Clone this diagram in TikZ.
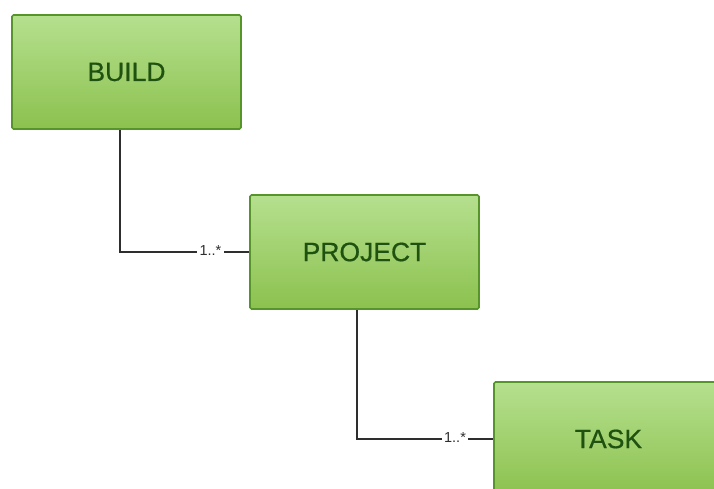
\documentclass[tikz,border=0pt]{standalone}
\usepackage{fontspec}
\setmainfont{Liberation Sans}
\newfontfamily\entityfont[FakeBold=0.6]{Liberation Sans}
\definecolor{boxtop}{HTML}{B5E08F}
\definecolor{boxbot}{HTML}{8CC14E}
\definecolor{boxline}{HTML}{57952A}
\definecolor{boxtext}{HTML}{1F5210}
\definecolor{linkcol}{HTML}{2E2E2E}
\begin{document}
\begin{tikzpicture}[x=1pt,y=-1pt,
  entity/.style={draw=boxline, line width=1.7pt, rounded corners=1.5pt,
    top color=boxtop, bottom color=boxbot,
    minimum width=229pt, minimum height=114pt, inner sep=0pt,
    text=boxtext, font=\entityfont\fontsize{26.5}{30}\selectfont},
  link/.style={draw=linkcol, line width=1.1pt},
  mult/.style={fill=white, inner xsep=2.5pt, inner ysep=1pt, text=linkcol,
    font=\fontsize{14.5}{16}\selectfont}]
  \useasboundingbox (0,0) rectangle (714,489);
  \clip (0,0) rectangle (714,489);
  \fill[white] (0,0) rectangle (714,489);

  % entity boxes
  \node[entity] (build)   at (126.5,72)  {BUILD};
  \node[entity] (project) at (364.5,252) {PROJECT};
  \node[entity] (task)    at (608.5,439) {TASK};

  % associations with multiplicities
  \draw[link] ([xshift=-6.5pt]build.south) |- node[mult, pos=0.85, yshift=1pt] {1..*} (project.west);
  \draw[link] ([xshift=-7.5pt]project.south) |- node[mult, pos=0.86, yshift=1pt] {1..*} (task.west);
\end{tikzpicture}
\end{document}
